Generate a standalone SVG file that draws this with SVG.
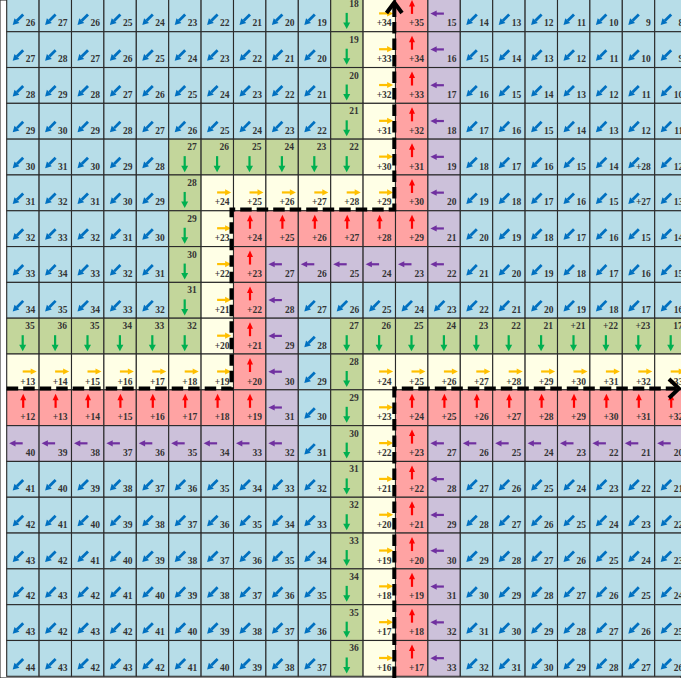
<svg xmlns="http://www.w3.org/2000/svg" xmlns:xlink="http://www.w3.org/1999/xlink" width="681" height="678" viewBox="0 0 681 678">
<style>
.b{fill:#b7dde8}.g{fill:#c3d69b}.y{fill:#ffffe6}.r{fill:#ffa3a3}.p{fill:#ccc1da}
rect{stroke:#2a2a2a;stroke-width:1.1}
text{font-family:"Liberation Serif","DejaVu Serif",serif;font-weight:bold;font-size:9.5px;fill:#333;text-anchor:end}
.dl{fill:none;stroke:#000;stroke-width:4;stroke-dasharray:11.5 5}
.ah{fill:none;stroke:#000;stroke-width:4;stroke-linecap:butt;stroke-linejoin:miter}
</style>
<defs>
<g id="B"><rect class="b" width="32.4" height="35.81"/><path d="M16.5 18.5L10.2 24.8" stroke="#0070c0" stroke-width="2.8"/><path d="M6 29L7.8 22.3L12.7 27.2Z" fill="#0070c0"/></g>
<g id="G"><rect class="g" width="32.4" height="35.81"/><path d="M16 17V27.5" stroke="#00b050" stroke-width="2.2"/><path d="M12.5 26.5H19.5L16 33Z" fill="#00b050"/></g>
<g id="Y"><rect class="y" width="32.4" height="35.81"/><path d="M16 17.5H25" stroke="#ffc000" stroke-width="2.2"/><path d="M24 14.4V20.6L30 17.5Z" fill="#ffc000"/></g>
<g id="R"><rect class="r" width="32.4" height="35.81"/><path d="M16.5 18V9.5" stroke="#ff0000" stroke-width="2.2"/><path d="M13.5 10.5H19.5L16.5 4Z" fill="#ff0000"/></g>
<g id="P"><rect class="p" width="32.4" height="35.81"/><path d="M16 17.7H8" stroke="#7030a0" stroke-width="2.2"/><path d="M8.8 14.6V20.8L2.5 17.7Z" fill="#7030a0"/></g>
</defs>
<rect width="681" height="678" fill="#fff"/>
<g id="cells">
<g id="n0_0" transform="translate(6.7,-4.1)"><use href="#B"/><text x="28.5" y="30.5">26</text></g>
<g id="n0_1" transform="translate(39.1,-4.1)"><use href="#B"/><text x="28.5" y="30.5">27</text></g>
<g id="n0_2" transform="translate(71.5,-4.1)"><use href="#B"/><text x="28.5" y="30.5">26</text></g>
<g id="n0_3" transform="translate(103.9,-4.1)"><use href="#B"/><text x="28.5" y="30.5">25</text></g>
<g id="n0_4" transform="translate(136.3,-4.1)"><use href="#B"/><text x="28.5" y="30.5">24</text></g>
<g id="n0_5" transform="translate(168.7,-4.1)"><use href="#B"/><text x="28.5" y="30.5">23</text></g>
<g id="n0_6" transform="translate(201.1,-4.1)"><use href="#B"/><text x="28.5" y="30.5">22</text></g>
<g id="n0_7" transform="translate(233.5,-4.1)"><use href="#B"/><text x="28.5" y="30.5">21</text></g>
<g id="n0_8" transform="translate(265.9,-4.1)"><use href="#B"/><text x="28.5" y="30.5">20</text></g>
<g id="n0_9" transform="translate(298.3,-4.1)"><use href="#B"/><text x="28.5" y="30.5">19</text></g>
<g id="n0_10" transform="translate(330.7,-4.1)"><use href="#G"/><text x="28" y="11">18</text></g>
<g id="n0_11" transform="translate(363.1,-4.1)"><use href="#Y"/><text x="28.5" y="30.5">+34</text></g>
<g id="n0_12" transform="translate(395.5,-4.1)"><use href="#R"/><text x="28.5" y="30.5">+35</text></g>
<g id="n0_13" transform="translate(427.9,-4.1)"><use href="#P"/><text x="28.5" y="30.5">15</text></g>
<g id="n0_14" transform="translate(460.3,-4.1)"><use href="#B"/><text x="28.5" y="30.5">14</text></g>
<g id="n0_15" transform="translate(492.7,-4.1)"><use href="#B"/><text x="28.5" y="30.5">13</text></g>
<g id="n0_16" transform="translate(525.1,-4.1)"><use href="#B"/><text x="28.5" y="30.5">12</text></g>
<g id="n0_17" transform="translate(557.5,-4.1)"><use href="#B"/><text x="28.5" y="30.5">11</text></g>
<g id="n0_18" transform="translate(589.9,-4.1)"><use href="#B"/><text x="28.5" y="30.5">10</text></g>
<g id="n0_19" transform="translate(622.3,-4.1)"><use href="#B"/><text x="28.5" y="30.5">9</text></g>
<g id="n0_20" transform="translate(654.7,-4.1)"><use href="#B"/><text x="28.5" y="30.5">8</text></g>

<g id="n1_0" transform="translate(6.7,31.71)"><use href="#B"/><text x="28.5" y="30.5">27</text></g>
<g id="n1_1" transform="translate(39.1,31.71)"><use href="#B"/><text x="28.5" y="30.5">28</text></g>
<g id="n1_2" transform="translate(71.5,31.71)"><use href="#B"/><text x="28.5" y="30.5">27</text></g>
<g id="n1_3" transform="translate(103.9,31.71)"><use href="#B"/><text x="28.5" y="30.5">26</text></g>
<g id="n1_4" transform="translate(136.3,31.71)"><use href="#B"/><text x="28.5" y="30.5">25</text></g>
<g id="n1_5" transform="translate(168.7,31.71)"><use href="#B"/><text x="28.5" y="30.5">24</text></g>
<g id="n1_6" transform="translate(201.1,31.71)"><use href="#B"/><text x="28.5" y="30.5">23</text></g>
<g id="n1_7" transform="translate(233.5,31.71)"><use href="#B"/><text x="28.5" y="30.5">22</text></g>
<g id="n1_8" transform="translate(265.9,31.71)"><use href="#B"/><text x="28.5" y="30.5">21</text></g>
<g id="n1_9" transform="translate(298.3,31.71)"><use href="#B"/><text x="28.5" y="30.5">20</text></g>
<g id="n1_10" transform="translate(330.7,31.71)"><use href="#G"/><text x="28" y="11">19</text></g>
<g id="n1_11" transform="translate(363.1,31.71)"><use href="#Y"/><text x="28.5" y="30.5">+33</text></g>
<g id="n1_12" transform="translate(395.5,31.71)"><use href="#R"/><text x="28.5" y="30.5">+34</text></g>
<g id="n1_13" transform="translate(427.9,31.71)"><use href="#P"/><text x="28.5" y="30.5">16</text></g>
<g id="n1_14" transform="translate(460.3,31.71)"><use href="#B"/><text x="28.5" y="30.5">15</text></g>
<g id="n1_15" transform="translate(492.7,31.71)"><use href="#B"/><text x="28.5" y="30.5">14</text></g>
<g id="n1_16" transform="translate(525.1,31.71)"><use href="#B"/><text x="28.5" y="30.5">13</text></g>
<g id="n1_17" transform="translate(557.5,31.71)"><use href="#B"/><text x="28.5" y="30.5">12</text></g>
<g id="n1_18" transform="translate(589.9,31.71)"><use href="#B"/><text x="28.5" y="30.5">11</text></g>
<g id="n1_19" transform="translate(622.3,31.71)"><use href="#B"/><text x="28.5" y="30.5">10</text></g>
<g id="n1_20" transform="translate(654.7,31.71)"><use href="#B"/><text x="28.5" y="30.5">9</text></g>

<g id="n2_0" transform="translate(6.7,67.52)"><use href="#B"/><text x="28.5" y="30.5">28</text></g>
<g id="n2_1" transform="translate(39.1,67.52)"><use href="#B"/><text x="28.5" y="30.5">29</text></g>
<g id="n2_2" transform="translate(71.5,67.52)"><use href="#B"/><text x="28.5" y="30.5">28</text></g>
<g id="n2_3" transform="translate(103.9,67.52)"><use href="#B"/><text x="28.5" y="30.5">27</text></g>
<g id="n2_4" transform="translate(136.3,67.52)"><use href="#B"/><text x="28.5" y="30.5">26</text></g>
<g id="n2_5" transform="translate(168.7,67.52)"><use href="#B"/><text x="28.5" y="30.5">25</text></g>
<g id="n2_6" transform="translate(201.1,67.52)"><use href="#B"/><text x="28.5" y="30.5">24</text></g>
<g id="n2_7" transform="translate(233.5,67.52)"><use href="#B"/><text x="28.5" y="30.5">23</text></g>
<g id="n2_8" transform="translate(265.9,67.52)"><use href="#B"/><text x="28.5" y="30.5">22</text></g>
<g id="n2_9" transform="translate(298.3,67.52)"><use href="#B"/><text x="28.5" y="30.5">21</text></g>
<g id="n2_10" transform="translate(330.7,67.52)"><use href="#G"/><text x="28" y="11">20</text></g>
<g id="n2_11" transform="translate(363.1,67.52)"><use href="#Y"/><text x="28.5" y="30.5">+32</text></g>
<g id="n2_12" transform="translate(395.5,67.52)"><use href="#R"/><text x="28.5" y="30.5">+33</text></g>
<g id="n2_13" transform="translate(427.9,67.52)"><use href="#P"/><text x="28.5" y="30.5">17</text></g>
<g id="n2_14" transform="translate(460.3,67.52)"><use href="#B"/><text x="28.5" y="30.5">16</text></g>
<g id="n2_15" transform="translate(492.7,67.52)"><use href="#B"/><text x="28.5" y="30.5">15</text></g>
<g id="n2_16" transform="translate(525.1,67.52)"><use href="#B"/><text x="28.5" y="30.5">14</text></g>
<g id="n2_17" transform="translate(557.5,67.52)"><use href="#B"/><text x="28.5" y="30.5">13</text></g>
<g id="n2_18" transform="translate(589.9,67.52)"><use href="#B"/><text x="28.5" y="30.5">12</text></g>
<g id="n2_19" transform="translate(622.3,67.52)"><use href="#B"/><text x="28.5" y="30.5">11</text></g>
<g id="n2_20" transform="translate(654.7,67.52)"><use href="#B"/><text x="28.5" y="30.5">10</text></g>

<g id="n3_0" transform="translate(6.7,103.33)"><use href="#B"/><text x="28.5" y="30.5">29</text></g>
<g id="n3_1" transform="translate(39.1,103.33)"><use href="#B"/><text x="28.5" y="30.5">30</text></g>
<g id="n3_2" transform="translate(71.5,103.33)"><use href="#B"/><text x="28.5" y="30.5">29</text></g>
<g id="n3_3" transform="translate(103.9,103.33)"><use href="#B"/><text x="28.5" y="30.5">28</text></g>
<g id="n3_4" transform="translate(136.3,103.33)"><use href="#B"/><text x="28.5" y="30.5">27</text></g>
<g id="n3_5" transform="translate(168.7,103.33)"><use href="#B"/><text x="28.5" y="30.5">26</text></g>
<g id="n3_6" transform="translate(201.1,103.33)"><use href="#B"/><text x="28.5" y="30.5">25</text></g>
<g id="n3_7" transform="translate(233.5,103.33)"><use href="#B"/><text x="28.5" y="30.5">24</text></g>
<g id="n3_8" transform="translate(265.9,103.33)"><use href="#B"/><text x="28.5" y="30.5">23</text></g>
<g id="n3_9" transform="translate(298.3,103.33)"><use href="#B"/><text x="28.5" y="30.5">22</text></g>
<g id="n3_10" transform="translate(330.7,103.33)"><use href="#G"/><text x="28" y="11">21</text></g>
<g id="n3_11" transform="translate(363.1,103.33)"><use href="#Y"/><text x="28.5" y="30.5">+31</text></g>
<g id="n3_12" transform="translate(395.5,103.33)"><use href="#R"/><text x="28.5" y="30.5">+32</text></g>
<g id="n3_13" transform="translate(427.9,103.33)"><use href="#P"/><text x="28.5" y="30.5">18</text></g>
<g id="n3_14" transform="translate(460.3,103.33)"><use href="#B"/><text x="28.5" y="30.5">17</text></g>
<g id="n3_15" transform="translate(492.7,103.33)"><use href="#B"/><text x="28.5" y="30.5">16</text></g>
<g id="n3_16" transform="translate(525.1,103.33)"><use href="#B"/><text x="28.5" y="30.5">15</text></g>
<g id="n3_17" transform="translate(557.5,103.33)"><use href="#B"/><text x="28.5" y="30.5">14</text></g>
<g id="n3_18" transform="translate(589.9,103.33)"><use href="#B"/><text x="28.5" y="30.5">13</text></g>
<g id="n3_19" transform="translate(622.3,103.33)"><use href="#B"/><text x="28.5" y="30.5">12</text></g>
<g id="n3_20" transform="translate(654.7,103.33)"><use href="#B"/><text x="28.5" y="30.5">11</text></g>

<g id="n4_0" transform="translate(6.7,139.14)"><use href="#B"/><text x="28.5" y="30.5">30</text></g>
<g id="n4_1" transform="translate(39.1,139.14)"><use href="#B"/><text x="28.5" y="30.5">31</text></g>
<g id="n4_2" transform="translate(71.5,139.14)"><use href="#B"/><text x="28.5" y="30.5">30</text></g>
<g id="n4_3" transform="translate(103.9,139.14)"><use href="#B"/><text x="28.5" y="30.5">29</text></g>
<g id="n4_4" transform="translate(136.3,139.14)"><use href="#B"/><text x="28.5" y="30.5">28</text></g>
<g id="n4_5" transform="translate(168.7,139.14)"><use href="#G"/><text x="28" y="11">27</text></g>
<g id="n4_6" transform="translate(201.1,139.14)"><use href="#G"/><text x="28" y="11">26</text></g>
<g id="n4_7" transform="translate(233.5,139.14)"><use href="#G"/><text x="28" y="11">25</text></g>
<g id="n4_8" transform="translate(265.9,139.14)"><use href="#G"/><text x="28" y="11">24</text></g>
<g id="n4_9" transform="translate(298.3,139.14)"><use href="#G"/><text x="28" y="11">23</text></g>
<g id="n4_10" transform="translate(330.7,139.14)"><use href="#G"/><text x="28" y="11">22</text></g>
<g id="n4_11" transform="translate(363.1,139.14)"><use href="#Y"/><text x="28.5" y="30.5">+30</text></g>
<g id="n4_12" transform="translate(395.5,139.14)"><use href="#R"/><text x="28.5" y="30.5">+31</text></g>
<g id="n4_13" transform="translate(427.9,139.14)"><use href="#P"/><text x="28.5" y="30.5">19</text></g>
<g id="n4_14" transform="translate(460.3,139.14)"><use href="#B"/><text x="28.5" y="30.5">18</text></g>
<g id="n4_15" transform="translate(492.7,139.14)"><use href="#B"/><text x="28.5" y="30.5">17</text></g>
<g id="n4_16" transform="translate(525.1,139.14)"><use href="#B"/><text x="28.5" y="30.5">16</text></g>
<g id="n4_17" transform="translate(557.5,139.14)"><use href="#B"/><text x="28.5" y="30.5">15</text></g>
<g id="n4_18" transform="translate(589.9,139.14)"><use href="#B"/><text x="28.5" y="30.5">14</text></g>
<g id="n4_19" transform="translate(622.3,139.14)"><use href="#B"/><text x="28.5" y="30.5">+28</text></g>
<g id="n4_20" transform="translate(654.7,139.14)"><use href="#B"/><text x="28.5" y="30.5">12</text></g>

<g id="n5_0" transform="translate(6.7,174.95)"><use href="#B"/><text x="28.5" y="30.5">31</text></g>
<g id="n5_1" transform="translate(39.1,174.95)"><use href="#B"/><text x="28.5" y="30.5">32</text></g>
<g id="n5_2" transform="translate(71.5,174.95)"><use href="#B"/><text x="28.5" y="30.5">31</text></g>
<g id="n5_3" transform="translate(103.9,174.95)"><use href="#B"/><text x="28.5" y="30.5">30</text></g>
<g id="n5_4" transform="translate(136.3,174.95)"><use href="#B"/><text x="28.5" y="30.5">29</text></g>
<g id="n5_5" transform="translate(168.7,174.95)"><use href="#G"/><text x="28" y="11">28</text></g>
<g id="n5_6" transform="translate(201.1,174.95)"><use href="#Y"/><text x="28.5" y="30.5">+24</text></g>
<g id="n5_7" transform="translate(233.5,174.95)"><use href="#Y"/><text x="28.5" y="30.5">+25</text></g>
<g id="n5_8" transform="translate(265.9,174.95)"><use href="#Y"/><text x="28.5" y="30.5">+26</text></g>
<g id="n5_9" transform="translate(298.3,174.95)"><use href="#Y"/><text x="28.5" y="30.5">+27</text></g>
<g id="n5_10" transform="translate(330.7,174.95)"><use href="#Y"/><text x="28.5" y="30.5">+28</text></g>
<g id="n5_11" transform="translate(363.1,174.95)"><use href="#Y"/><text x="28.5" y="30.5">+29</text></g>
<g id="n5_12" transform="translate(395.5,174.95)"><use href="#R"/><text x="28.5" y="30.5">+30</text></g>
<g id="n5_13" transform="translate(427.9,174.95)"><use href="#P"/><text x="28.5" y="30.5">20</text></g>
<g id="n5_14" transform="translate(460.3,174.95)"><use href="#B"/><text x="28.5" y="30.5">19</text></g>
<g id="n5_15" transform="translate(492.7,174.95)"><use href="#B"/><text x="28.5" y="30.5">18</text></g>
<g id="n5_16" transform="translate(525.1,174.95)"><use href="#B"/><text x="28.5" y="30.5">17</text></g>
<g id="n5_17" transform="translate(557.5,174.95)"><use href="#B"/><text x="28.5" y="30.5">16</text></g>
<g id="n5_18" transform="translate(589.9,174.95)"><use href="#B"/><text x="28.5" y="30.5">15</text></g>
<g id="n5_19" transform="translate(622.3,174.95)"><use href="#B"/><text x="28.5" y="30.5">+27</text></g>
<g id="n5_20" transform="translate(654.7,174.95)"><use href="#B"/><text x="28.5" y="30.5">13</text></g>

<g id="n6_0" transform="translate(6.7,210.76)"><use href="#B"/><text x="28.5" y="30.5">32</text></g>
<g id="n6_1" transform="translate(39.1,210.76)"><use href="#B"/><text x="28.5" y="30.5">33</text></g>
<g id="n6_2" transform="translate(71.5,210.76)"><use href="#B"/><text x="28.5" y="30.5">32</text></g>
<g id="n6_3" transform="translate(103.9,210.76)"><use href="#B"/><text x="28.5" y="30.5">31</text></g>
<g id="n6_4" transform="translate(136.3,210.76)"><use href="#B"/><text x="28.5" y="30.5">30</text></g>
<g id="n6_5" transform="translate(168.7,210.76)"><use href="#G"/><text x="28" y="11">29</text></g>
<g id="n6_6" transform="translate(201.1,210.76)"><use href="#Y"/><text x="28.5" y="30.5">+23</text></g>
<g id="n6_7" transform="translate(233.5,210.76)"><use href="#R"/><text x="28.5" y="30.5">+24</text></g>
<g id="n6_8" transform="translate(265.9,210.76)"><use href="#R"/><text x="28.5" y="30.5">+25</text></g>
<g id="n6_9" transform="translate(298.3,210.76)"><use href="#R"/><text x="28.5" y="30.5">+26</text></g>
<g id="n6_10" transform="translate(330.7,210.76)"><use href="#R"/><text x="28.5" y="30.5">+27</text></g>
<g id="n6_11" transform="translate(363.1,210.76)"><use href="#R"/><text x="28.5" y="30.5">+28</text></g>
<g id="n6_12" transform="translate(395.5,210.76)"><use href="#R"/><text x="28.5" y="30.5">+29</text></g>
<g id="n6_13" transform="translate(427.9,210.76)"><use href="#P"/><text x="28.5" y="30.5">21</text></g>
<g id="n6_14" transform="translate(460.3,210.76)"><use href="#B"/><text x="28.5" y="30.5">20</text></g>
<g id="n6_15" transform="translate(492.7,210.76)"><use href="#B"/><text x="28.5" y="30.5">19</text></g>
<g id="n6_16" transform="translate(525.1,210.76)"><use href="#B"/><text x="28.5" y="30.5">18</text></g>
<g id="n6_17" transform="translate(557.5,210.76)"><use href="#B"/><text x="28.5" y="30.5">17</text></g>
<g id="n6_18" transform="translate(589.9,210.76)"><use href="#B"/><text x="28.5" y="30.5">16</text></g>
<g id="n6_19" transform="translate(622.3,210.76)"><use href="#B"/><text x="28.5" y="30.5">15</text></g>
<g id="n6_20" transform="translate(654.7,210.76)"><use href="#B"/><text x="28.5" y="30.5">14</text></g>

<g id="n7_0" transform="translate(6.7,246.57)"><use href="#B"/><text x="28.5" y="30.5">33</text></g>
<g id="n7_1" transform="translate(39.1,246.57)"><use href="#B"/><text x="28.5" y="30.5">34</text></g>
<g id="n7_2" transform="translate(71.5,246.57)"><use href="#B"/><text x="28.5" y="30.5">33</text></g>
<g id="n7_3" transform="translate(103.9,246.57)"><use href="#B"/><text x="28.5" y="30.5">32</text></g>
<g id="n7_4" transform="translate(136.3,246.57)"><use href="#B"/><text x="28.5" y="30.5">31</text></g>
<g id="n7_5" transform="translate(168.7,246.57)"><use href="#G"/><text x="28" y="11">30</text></g>
<g id="n7_6" transform="translate(201.1,246.57)"><use href="#Y"/><text x="28.5" y="30.5">+22</text></g>
<g id="n7_7" transform="translate(233.5,246.57)"><use href="#R"/><text x="28.5" y="30.5">+23</text></g>
<g id="n7_8" transform="translate(265.9,246.57)"><use href="#P"/><text x="28.5" y="30.5">27</text></g>
<g id="n7_9" transform="translate(298.3,246.57)"><use href="#P"/><text x="28.5" y="30.5">26</text></g>
<g id="n7_10" transform="translate(330.7,246.57)"><use href="#P"/><text x="28.5" y="30.5">25</text></g>
<g id="n7_11" transform="translate(363.1,246.57)"><use href="#P"/><text x="28.5" y="30.5">24</text></g>
<g id="n7_12" transform="translate(395.5,246.57)"><use href="#P"/><text x="28.5" y="30.5">23</text></g>
<g id="n7_13" transform="translate(427.9,246.57)"><use href="#P"/><text x="28.5" y="30.5">22</text></g>
<g id="n7_14" transform="translate(460.3,246.57)"><use href="#B"/><text x="28.5" y="30.5">21</text></g>
<g id="n7_15" transform="translate(492.7,246.57)"><use href="#B"/><text x="28.5" y="30.5">20</text></g>
<g id="n7_16" transform="translate(525.1,246.57)"><use href="#B"/><text x="28.5" y="30.5">19</text></g>
<g id="n7_17" transform="translate(557.5,246.57)"><use href="#B"/><text x="28.5" y="30.5">18</text></g>
<g id="n7_18" transform="translate(589.9,246.57)"><use href="#B"/><text x="28.5" y="30.5">17</text></g>
<g id="n7_19" transform="translate(622.3,246.57)"><use href="#B"/><text x="28.5" y="30.5">16</text></g>
<g id="n7_20" transform="translate(654.7,246.57)"><use href="#B"/><text x="28.5" y="30.5">15</text></g>

<g id="n8_0" transform="translate(6.7,282.38)"><use href="#B"/><text x="28.5" y="30.5">34</text></g>
<g id="n8_1" transform="translate(39.1,282.38)"><use href="#B"/><text x="28.5" y="30.5">35</text></g>
<g id="n8_2" transform="translate(71.5,282.38)"><use href="#B"/><text x="28.5" y="30.5">34</text></g>
<g id="n8_3" transform="translate(103.9,282.38)"><use href="#B"/><text x="28.5" y="30.5">33</text></g>
<g id="n8_4" transform="translate(136.3,282.38)"><use href="#B"/><text x="28.5" y="30.5">32</text></g>
<g id="n8_5" transform="translate(168.7,282.38)"><use href="#G"/><text x="28" y="11">31</text></g>
<g id="n8_6" transform="translate(201.1,282.38)"><use href="#Y"/><text x="28.5" y="30.5">+21</text></g>
<g id="n8_7" transform="translate(233.5,282.38)"><use href="#R"/><text x="28.5" y="30.5">+22</text></g>
<g id="n8_8" transform="translate(265.9,282.38)"><use href="#P"/><text x="28.5" y="30.5">28</text></g>
<g id="n8_9" transform="translate(298.3,282.38)"><use href="#B"/><text x="28.5" y="30.5">27</text></g>
<g id="n8_10" transform="translate(330.7,282.38)"><use href="#B"/><text x="28.5" y="30.5">26</text></g>
<g id="n8_11" transform="translate(363.1,282.38)"><use href="#B"/><text x="28.5" y="30.5">25</text></g>
<g id="n8_12" transform="translate(395.5,282.38)"><use href="#B"/><text x="28.5" y="30.5">24</text></g>
<g id="n8_13" transform="translate(427.9,282.38)"><use href="#B"/><text x="28.5" y="30.5">23</text></g>
<g id="n8_14" transform="translate(460.3,282.38)"><use href="#B"/><text x="28.5" y="30.5">22</text></g>
<g id="n8_15" transform="translate(492.7,282.38)"><use href="#B"/><text x="28.5" y="30.5">21</text></g>
<g id="n8_16" transform="translate(525.1,282.38)"><use href="#B"/><text x="28.5" y="30.5">20</text></g>
<g id="n8_17" transform="translate(557.5,282.38)"><use href="#B"/><text x="28.5" y="30.5">19</text></g>
<g id="n8_18" transform="translate(589.9,282.38)"><use href="#B"/><text x="28.5" y="30.5">18</text></g>
<g id="n8_19" transform="translate(622.3,282.38)"><use href="#B"/><text x="28.5" y="30.5">17</text></g>
<g id="n8_20" transform="translate(654.7,282.38)"><use href="#B"/><text x="28.5" y="30.5">16</text></g>

<g id="n9_0" transform="translate(6.7,318.19)"><use href="#G"/><text x="28" y="11">35</text></g>
<g id="n9_1" transform="translate(39.1,318.19)"><use href="#G"/><text x="28" y="11">36</text></g>
<g id="n9_2" transform="translate(71.5,318.19)"><use href="#G"/><text x="28" y="11">35</text></g>
<g id="n9_3" transform="translate(103.9,318.19)"><use href="#G"/><text x="28" y="11">34</text></g>
<g id="n9_4" transform="translate(136.3,318.19)"><use href="#G"/><text x="28" y="11">33</text></g>
<g id="n9_5" transform="translate(168.7,318.19)"><use href="#G"/><text x="28" y="11">32</text></g>
<g id="n9_6" transform="translate(201.1,318.19)"><use href="#Y"/><text x="28.5" y="30.5">+20</text></g>
<g id="n9_7" transform="translate(233.5,318.19)"><use href="#R"/><text x="28.5" y="30.5">+21</text></g>
<g id="n9_8" transform="translate(265.9,318.19)"><use href="#P"/><text x="28.5" y="30.5">29</text></g>
<g id="n9_9" transform="translate(298.3,318.19)"><use href="#B"/><text x="28.5" y="30.5">28</text></g>
<g id="n9_10" transform="translate(330.7,318.19)"><use href="#G"/><text x="28" y="11">27</text></g>
<g id="n9_11" transform="translate(363.1,318.19)"><use href="#G"/><text x="28" y="11">26</text></g>
<g id="n9_12" transform="translate(395.5,318.19)"><use href="#G"/><text x="28" y="11">25</text></g>
<g id="n9_13" transform="translate(427.9,318.19)"><use href="#G"/><text x="28" y="11">24</text></g>
<g id="n9_14" transform="translate(460.3,318.19)"><use href="#G"/><text x="28" y="11">23</text></g>
<g id="n9_15" transform="translate(492.7,318.19)"><use href="#G"/><text x="28" y="11">22</text></g>
<g id="n9_16" transform="translate(525.1,318.19)"><use href="#G"/><text x="28" y="11">21</text></g>
<g id="n9_17" transform="translate(557.5,318.19)"><use href="#G"/><text x="28" y="11">+21</text></g>
<g id="n9_18" transform="translate(589.9,318.19)"><use href="#G"/><text x="28" y="11">+22</text></g>
<g id="n9_19" transform="translate(622.3,318.19)"><use href="#G"/><text x="28" y="11">+23</text></g>
<g id="n9_20" transform="translate(654.7,318.19)"><use href="#G"/><text x="28" y="11">17</text></g>

<g id="n10_0" transform="translate(6.7,354)"><use href="#Y"/><text x="28.5" y="30.5">+13</text></g>
<g id="n10_1" transform="translate(39.1,354)"><use href="#Y"/><text x="28.5" y="30.5">+14</text></g>
<g id="n10_2" transform="translate(71.5,354)"><use href="#Y"/><text x="28.5" y="30.5">+15</text></g>
<g id="n10_3" transform="translate(103.9,354)"><use href="#Y"/><text x="28.5" y="30.5">+16</text></g>
<g id="n10_4" transform="translate(136.3,354)"><use href="#Y"/><text x="28.5" y="30.5">+17</text></g>
<g id="n10_5" transform="translate(168.7,354)"><use href="#Y"/><text x="28.5" y="30.5">+18</text></g>
<g id="n10_6" transform="translate(201.1,354)"><use href="#Y"/><text x="28.5" y="30.5">+19</text></g>
<g id="n10_7" transform="translate(233.5,354)"><use href="#R"/><text x="28.5" y="30.5">+20</text></g>
<g id="n10_8" transform="translate(265.9,354)"><use href="#P"/><text x="28.5" y="30.5">30</text></g>
<g id="n10_9" transform="translate(298.3,354)"><use href="#B"/><text x="28.5" y="30.5">29</text></g>
<g id="n10_10" transform="translate(330.7,354)"><use href="#G"/><text x="28" y="11">28</text></g>
<g id="n10_11" transform="translate(363.1,354)"><use href="#Y"/><text x="28.5" y="30.5">+24</text></g>
<g id="n10_12" transform="translate(395.5,354)"><use href="#Y"/><text x="28.5" y="30.5">+25</text></g>
<g id="n10_13" transform="translate(427.9,354)"><use href="#Y"/><text x="28.5" y="30.5">+26</text></g>
<g id="n10_14" transform="translate(460.3,354)"><use href="#Y"/><text x="28.5" y="30.5">+27</text></g>
<g id="n10_15" transform="translate(492.7,354)"><use href="#Y"/><text x="28.5" y="30.5">+28</text></g>
<g id="n10_16" transform="translate(525.1,354)"><use href="#Y"/><text x="28.5" y="30.5">+29</text></g>
<g id="n10_17" transform="translate(557.5,354)"><use href="#Y"/><text x="28.5" y="30.5">+30</text></g>
<g id="n10_18" transform="translate(589.9,354)"><use href="#Y"/><text x="28.5" y="30.5">+31</text></g>
<g id="n10_19" transform="translate(622.3,354)"><use href="#Y"/><text x="28.5" y="30.5">+32</text></g>
<g id="n10_20" transform="translate(654.7,354)"><use href="#Y"/><text x="28.5" y="30.5">+33</text></g>

<g id="n11_0" transform="translate(6.7,389.81)"><use href="#R"/><text x="28.5" y="30.5">+12</text></g>
<g id="n11_1" transform="translate(39.1,389.81)"><use href="#R"/><text x="28.5" y="30.5">+13</text></g>
<g id="n11_2" transform="translate(71.5,389.81)"><use href="#R"/><text x="28.5" y="30.5">+14</text></g>
<g id="n11_3" transform="translate(103.9,389.81)"><use href="#R"/><text x="28.5" y="30.5">+15</text></g>
<g id="n11_4" transform="translate(136.3,389.81)"><use href="#R"/><text x="28.5" y="30.5">+16</text></g>
<g id="n11_5" transform="translate(168.7,389.81)"><use href="#R"/><text x="28.5" y="30.5">+17</text></g>
<g id="n11_6" transform="translate(201.1,389.81)"><use href="#R"/><text x="28.5" y="30.5">+18</text></g>
<g id="n11_7" transform="translate(233.5,389.81)"><use href="#R"/><text x="28.5" y="30.5">+19</text></g>
<g id="n11_8" transform="translate(265.9,389.81)"><use href="#P"/><text x="28.5" y="30.5">31</text></g>
<g id="n11_9" transform="translate(298.3,389.81)"><use href="#B"/><text x="28.5" y="30.5">30</text></g>
<g id="n11_10" transform="translate(330.7,389.81)"><use href="#G"/><text x="28" y="11">29</text></g>
<g id="n11_11" transform="translate(363.1,389.81)"><use href="#Y"/><text x="28.5" y="30.5">+23</text></g>
<g id="n11_12" transform="translate(395.5,389.81)"><use href="#R"/><text x="28.5" y="30.5">+24</text></g>
<g id="n11_13" transform="translate(427.9,389.81)"><use href="#R"/><text x="28.5" y="30.5">+25</text></g>
<g id="n11_14" transform="translate(460.3,389.81)"><use href="#R"/><text x="28.5" y="30.5">+26</text></g>
<g id="n11_15" transform="translate(492.7,389.81)"><use href="#R"/><text x="28.5" y="30.5">+27</text></g>
<g id="n11_16" transform="translate(525.1,389.81)"><use href="#R"/><text x="28.5" y="30.5">+28</text></g>
<g id="n11_17" transform="translate(557.5,389.81)"><use href="#R"/><text x="28.5" y="30.5">+29</text></g>
<g id="n11_18" transform="translate(589.9,389.81)"><use href="#R"/><text x="28.5" y="30.5">+30</text></g>
<g id="n11_19" transform="translate(622.3,389.81)"><use href="#R"/><text x="28.5" y="30.5">+31</text></g>
<g id="n11_20" transform="translate(654.7,389.81)"><use href="#R"/><text x="28.5" y="30.5">+32</text></g>

<g id="n12_0" transform="translate(6.7,425.62)"><use href="#P"/><text x="28.5" y="30.5">40</text></g>
<g id="n12_1" transform="translate(39.1,425.62)"><use href="#P"/><text x="28.5" y="30.5">39</text></g>
<g id="n12_2" transform="translate(71.5,425.62)"><use href="#P"/><text x="28.5" y="30.5">38</text></g>
<g id="n12_3" transform="translate(103.9,425.62)"><use href="#P"/><text x="28.5" y="30.5">37</text></g>
<g id="n12_4" transform="translate(136.3,425.62)"><use href="#P"/><text x="28.5" y="30.5">36</text></g>
<g id="n12_5" transform="translate(168.7,425.62)"><use href="#P"/><text x="28.5" y="30.5">35</text></g>
<g id="n12_6" transform="translate(201.1,425.62)"><use href="#P"/><text x="28.5" y="30.5">34</text></g>
<g id="n12_7" transform="translate(233.5,425.62)"><use href="#P"/><text x="28.5" y="30.5">33</text></g>
<g id="n12_8" transform="translate(265.9,425.62)"><use href="#P"/><text x="28.5" y="30.5">32</text></g>
<g id="n12_9" transform="translate(298.3,425.62)"><use href="#B"/><text x="28.5" y="30.5">31</text></g>
<g id="n12_10" transform="translate(330.7,425.62)"><use href="#G"/><text x="28" y="11">30</text></g>
<g id="n12_11" transform="translate(363.1,425.62)"><use href="#Y"/><text x="28.5" y="30.5">+22</text></g>
<g id="n12_12" transform="translate(395.5,425.62)"><use href="#R"/><text x="28.5" y="30.5">+23</text></g>
<g id="n12_13" transform="translate(427.9,425.62)"><use href="#P"/><text x="28.5" y="30.5">27</text></g>
<g id="n12_14" transform="translate(460.3,425.62)"><use href="#P"/><text x="28.5" y="30.5">26</text></g>
<g id="n12_15" transform="translate(492.7,425.62)"><use href="#P"/><text x="28.5" y="30.5">25</text></g>
<g id="n12_16" transform="translate(525.1,425.62)"><use href="#P"/><text x="28.5" y="30.5">24</text></g>
<g id="n12_17" transform="translate(557.5,425.62)"><use href="#P"/><text x="28.5" y="30.5">23</text></g>
<g id="n12_18" transform="translate(589.9,425.62)"><use href="#P"/><text x="28.5" y="30.5">22</text></g>
<g id="n12_19" transform="translate(622.3,425.62)"><use href="#P"/><text x="28.5" y="30.5">21</text></g>
<g id="n12_20" transform="translate(654.7,425.62)"><use href="#P"/><text x="28.5" y="30.5">20</text></g>

<g id="n13_0" transform="translate(6.7,461.43)"><use href="#B"/><text x="28.5" y="30.5">41</text></g>
<g id="n13_1" transform="translate(39.1,461.43)"><use href="#B"/><text x="28.5" y="30.5">40</text></g>
<g id="n13_2" transform="translate(71.5,461.43)"><use href="#B"/><text x="28.5" y="30.5">39</text></g>
<g id="n13_3" transform="translate(103.9,461.43)"><use href="#B"/><text x="28.5" y="30.5">38</text></g>
<g id="n13_4" transform="translate(136.3,461.43)"><use href="#B"/><text x="28.5" y="30.5">37</text></g>
<g id="n13_5" transform="translate(168.7,461.43)"><use href="#B"/><text x="28.5" y="30.5">36</text></g>
<g id="n13_6" transform="translate(201.1,461.43)"><use href="#B"/><text x="28.5" y="30.5">35</text></g>
<g id="n13_7" transform="translate(233.5,461.43)"><use href="#B"/><text x="28.5" y="30.5">34</text></g>
<g id="n13_8" transform="translate(265.9,461.43)"><use href="#B"/><text x="28.5" y="30.5">33</text></g>
<g id="n13_9" transform="translate(298.3,461.43)"><use href="#B"/><text x="28.5" y="30.5">32</text></g>
<g id="n13_10" transform="translate(330.7,461.43)"><use href="#G"/><text x="28" y="11">31</text></g>
<g id="n13_11" transform="translate(363.1,461.43)"><use href="#Y"/><text x="28.5" y="30.5">+21</text></g>
<g id="n13_12" transform="translate(395.5,461.43)"><use href="#R"/><text x="28.5" y="30.5">+22</text></g>
<g id="n13_13" transform="translate(427.9,461.43)"><use href="#P"/><text x="28.5" y="30.5">28</text></g>
<g id="n13_14" transform="translate(460.3,461.43)"><use href="#B"/><text x="28.5" y="30.5">27</text></g>
<g id="n13_15" transform="translate(492.7,461.43)"><use href="#B"/><text x="28.5" y="30.5">26</text></g>
<g id="n13_16" transform="translate(525.1,461.43)"><use href="#B"/><text x="28.5" y="30.5">25</text></g>
<g id="n13_17" transform="translate(557.5,461.43)"><use href="#B"/><text x="28.5" y="30.5">24</text></g>
<g id="n13_18" transform="translate(589.9,461.43)"><use href="#B"/><text x="28.5" y="30.5">23</text></g>
<g id="n13_19" transform="translate(622.3,461.43)"><use href="#B"/><text x="28.5" y="30.5">22</text></g>
<g id="n13_20" transform="translate(654.7,461.43)"><use href="#B"/><text x="28.5" y="30.5">21</text></g>

<g id="n14_0" transform="translate(6.7,497.24)"><use href="#B"/><text x="28.5" y="30.5">42</text></g>
<g id="n14_1" transform="translate(39.1,497.24)"><use href="#B"/><text x="28.5" y="30.5">41</text></g>
<g id="n14_2" transform="translate(71.5,497.24)"><use href="#B"/><text x="28.5" y="30.5">40</text></g>
<g id="n14_3" transform="translate(103.9,497.24)"><use href="#B"/><text x="28.5" y="30.5">39</text></g>
<g id="n14_4" transform="translate(136.3,497.24)"><use href="#B"/><text x="28.5" y="30.5">38</text></g>
<g id="n14_5" transform="translate(168.7,497.24)"><use href="#B"/><text x="28.5" y="30.5">37</text></g>
<g id="n14_6" transform="translate(201.1,497.24)"><use href="#B"/><text x="28.5" y="30.5">36</text></g>
<g id="n14_7" transform="translate(233.5,497.24)"><use href="#B"/><text x="28.5" y="30.5">35</text></g>
<g id="n14_8" transform="translate(265.9,497.24)"><use href="#B"/><text x="28.5" y="30.5">34</text></g>
<g id="n14_9" transform="translate(298.3,497.24)"><use href="#B"/><text x="28.5" y="30.5">33</text></g>
<g id="n14_10" transform="translate(330.7,497.24)"><use href="#G"/><text x="28" y="11">32</text></g>
<g id="n14_11" transform="translate(363.1,497.24)"><use href="#Y"/><text x="28.5" y="30.5">+20</text></g>
<g id="n14_12" transform="translate(395.5,497.24)"><use href="#R"/><text x="28.5" y="30.5">+21</text></g>
<g id="n14_13" transform="translate(427.9,497.24)"><use href="#P"/><text x="28.5" y="30.5">29</text></g>
<g id="n14_14" transform="translate(460.3,497.24)"><use href="#B"/><text x="28.5" y="30.5">28</text></g>
<g id="n14_15" transform="translate(492.7,497.24)"><use href="#B"/><text x="28.5" y="30.5">27</text></g>
<g id="n14_16" transform="translate(525.1,497.24)"><use href="#B"/><text x="28.5" y="30.5">26</text></g>
<g id="n14_17" transform="translate(557.5,497.24)"><use href="#B"/><text x="28.5" y="30.5">25</text></g>
<g id="n14_18" transform="translate(589.9,497.24)"><use href="#B"/><text x="28.5" y="30.5">24</text></g>
<g id="n14_19" transform="translate(622.3,497.24)"><use href="#B"/><text x="28.5" y="30.5">23</text></g>
<g id="n14_20" transform="translate(654.7,497.24)"><use href="#B"/><text x="28.5" y="30.5">22</text></g>

<g id="n15_0" transform="translate(6.7,533.05)"><use href="#B"/><text x="28.5" y="30.5">43</text></g>
<g id="n15_1" transform="translate(39.1,533.05)"><use href="#B"/><text x="28.5" y="30.5">42</text></g>
<g id="n15_2" transform="translate(71.5,533.05)"><use href="#B"/><text x="28.5" y="30.5">41</text></g>
<g id="n15_3" transform="translate(103.9,533.05)"><use href="#B"/><text x="28.5" y="30.5">40</text></g>
<g id="n15_4" transform="translate(136.3,533.05)"><use href="#B"/><text x="28.5" y="30.5">39</text></g>
<g id="n15_5" transform="translate(168.7,533.05)"><use href="#B"/><text x="28.5" y="30.5">38</text></g>
<g id="n15_6" transform="translate(201.1,533.05)"><use href="#B"/><text x="28.5" y="30.5">37</text></g>
<g id="n15_7" transform="translate(233.5,533.05)"><use href="#B"/><text x="28.5" y="30.5">36</text></g>
<g id="n15_8" transform="translate(265.9,533.05)"><use href="#B"/><text x="28.5" y="30.5">35</text></g>
<g id="n15_9" transform="translate(298.3,533.05)"><use href="#B"/><text x="28.5" y="30.5">34</text></g>
<g id="n15_10" transform="translate(330.7,533.05)"><use href="#G"/><text x="28" y="11">33</text></g>
<g id="n15_11" transform="translate(363.1,533.05)"><use href="#Y"/><text x="28.5" y="30.5">+19</text></g>
<g id="n15_12" transform="translate(395.5,533.05)"><use href="#R"/><text x="28.5" y="30.5">+20</text></g>
<g id="n15_13" transform="translate(427.9,533.05)"><use href="#P"/><text x="28.5" y="30.5">30</text></g>
<g id="n15_14" transform="translate(460.3,533.05)"><use href="#B"/><text x="28.5" y="30.5">29</text></g>
<g id="n15_15" transform="translate(492.7,533.05)"><use href="#B"/><text x="28.5" y="30.5">28</text></g>
<g id="n15_16" transform="translate(525.1,533.05)"><use href="#B"/><text x="28.5" y="30.5">27</text></g>
<g id="n15_17" transform="translate(557.5,533.05)"><use href="#B"/><text x="28.5" y="30.5">26</text></g>
<g id="n15_18" transform="translate(589.9,533.05)"><use href="#B"/><text x="28.5" y="30.5">25</text></g>
<g id="n15_19" transform="translate(622.3,533.05)"><use href="#B"/><text x="28.5" y="30.5">24</text></g>
<g id="n15_20" transform="translate(654.7,533.05)"><use href="#B"/><text x="28.5" y="30.5">23</text></g>

<g id="n16_0" transform="translate(6.7,568.86)"><use href="#B"/><text x="28.5" y="30.5">42</text></g>
<g id="n16_1" transform="translate(39.1,568.86)"><use href="#B"/><text x="28.5" y="30.5">43</text></g>
<g id="n16_2" transform="translate(71.5,568.86)"><use href="#B"/><text x="28.5" y="30.5">42</text></g>
<g id="n16_3" transform="translate(103.9,568.86)"><use href="#B"/><text x="28.5" y="30.5">41</text></g>
<g id="n16_4" transform="translate(136.3,568.86)"><use href="#B"/><text x="28.5" y="30.5">40</text></g>
<g id="n16_5" transform="translate(168.7,568.86)"><use href="#B"/><text x="28.5" y="30.5">39</text></g>
<g id="n16_6" transform="translate(201.1,568.86)"><use href="#B"/><text x="28.5" y="30.5">38</text></g>
<g id="n16_7" transform="translate(233.5,568.86)"><use href="#B"/><text x="28.5" y="30.5">37</text></g>
<g id="n16_8" transform="translate(265.9,568.86)"><use href="#B"/><text x="28.5" y="30.5">36</text></g>
<g id="n16_9" transform="translate(298.3,568.86)"><use href="#B"/><text x="28.5" y="30.5">35</text></g>
<g id="n16_10" transform="translate(330.7,568.86)"><use href="#G"/><text x="28" y="11">34</text></g>
<g id="n16_11" transform="translate(363.1,568.86)"><use href="#Y"/><text x="28.5" y="30.5">+18</text></g>
<g id="n16_12" transform="translate(395.5,568.86)"><use href="#R"/><text x="28.5" y="30.5">+19</text></g>
<g id="n16_13" transform="translate(427.9,568.86)"><use href="#P"/><text x="28.5" y="30.5">31</text></g>
<g id="n16_14" transform="translate(460.3,568.86)"><use href="#B"/><text x="28.5" y="30.5">30</text></g>
<g id="n16_15" transform="translate(492.7,568.86)"><use href="#B"/><text x="28.5" y="30.5">29</text></g>
<g id="n16_16" transform="translate(525.1,568.86)"><use href="#B"/><text x="28.5" y="30.5">28</text></g>
<g id="n16_17" transform="translate(557.5,568.86)"><use href="#B"/><text x="28.5" y="30.5">27</text></g>
<g id="n16_18" transform="translate(589.9,568.86)"><use href="#B"/><text x="28.5" y="30.5">26</text></g>
<g id="n16_19" transform="translate(622.3,568.86)"><use href="#B"/><text x="28.5" y="30.5">25</text></g>
<g id="n16_20" transform="translate(654.7,568.86)"><use href="#B"/><text x="28.5" y="30.5">24</text></g>

<g id="n17_0" transform="translate(6.7,604.67)"><use href="#B"/><text x="28.5" y="30.5">43</text></g>
<g id="n17_1" transform="translate(39.1,604.67)"><use href="#B"/><text x="28.5" y="30.5">42</text></g>
<g id="n17_2" transform="translate(71.5,604.67)"><use href="#B"/><text x="28.5" y="30.5">43</text></g>
<g id="n17_3" transform="translate(103.9,604.67)"><use href="#B"/><text x="28.5" y="30.5">42</text></g>
<g id="n17_4" transform="translate(136.3,604.67)"><use href="#B"/><text x="28.5" y="30.5">41</text></g>
<g id="n17_5" transform="translate(168.7,604.67)"><use href="#B"/><text x="28.5" y="30.5">40</text></g>
<g id="n17_6" transform="translate(201.1,604.67)"><use href="#B"/><text x="28.5" y="30.5">39</text></g>
<g id="n17_7" transform="translate(233.5,604.67)"><use href="#B"/><text x="28.5" y="30.5">38</text></g>
<g id="n17_8" transform="translate(265.9,604.67)"><use href="#B"/><text x="28.5" y="30.5">37</text></g>
<g id="n17_9" transform="translate(298.3,604.67)"><use href="#B"/><text x="28.5" y="30.5">36</text></g>
<g id="n17_10" transform="translate(330.7,604.67)"><use href="#G"/><text x="28" y="11">35</text></g>
<g id="n17_11" transform="translate(363.1,604.67)"><use href="#Y"/><text x="28.5" y="30.5">+17</text></g>
<g id="n17_12" transform="translate(395.5,604.67)"><use href="#R"/><text x="28.5" y="30.5">+18</text></g>
<g id="n17_13" transform="translate(427.9,604.67)"><use href="#P"/><text x="28.5" y="30.5">32</text></g>
<g id="n17_14" transform="translate(460.3,604.67)"><use href="#B"/><text x="28.5" y="30.5">31</text></g>
<g id="n17_15" transform="translate(492.7,604.67)"><use href="#B"/><text x="28.5" y="30.5">30</text></g>
<g id="n17_16" transform="translate(525.1,604.67)"><use href="#B"/><text x="28.5" y="30.5">29</text></g>
<g id="n17_17" transform="translate(557.5,604.67)"><use href="#B"/><text x="28.5" y="30.5">28</text></g>
<g id="n17_18" transform="translate(589.9,604.67)"><use href="#B"/><text x="28.5" y="30.5">27</text></g>
<g id="n17_19" transform="translate(622.3,604.67)"><use href="#B"/><text x="28.5" y="30.5">26</text></g>
<g id="n17_20" transform="translate(654.7,604.67)"><use href="#B"/><text x="28.5" y="30.5">25</text></g>

<g id="n18_0" transform="translate(6.7,640.48)"><use href="#B"/><text x="28.5" y="30.5">44</text></g>
<g id="n18_1" transform="translate(39.1,640.48)"><use href="#B"/><text x="28.5" y="30.5">43</text></g>
<g id="n18_2" transform="translate(71.5,640.48)"><use href="#B"/><text x="28.5" y="30.5">42</text></g>
<g id="n18_3" transform="translate(103.9,640.48)"><use href="#B"/><text x="28.5" y="30.5">43</text></g>
<g id="n18_4" transform="translate(136.3,640.48)"><use href="#B"/><text x="28.5" y="30.5">42</text></g>
<g id="n18_5" transform="translate(168.7,640.48)"><use href="#B"/><text x="28.5" y="30.5">41</text></g>
<g id="n18_6" transform="translate(201.1,640.48)"><use href="#B"/><text x="28.5" y="30.5">40</text></g>
<g id="n18_7" transform="translate(233.5,640.48)"><use href="#B"/><text x="28.5" y="30.5">39</text></g>
<g id="n18_8" transform="translate(265.9,640.48)"><use href="#B"/><text x="28.5" y="30.5">38</text></g>
<g id="n18_9" transform="translate(298.3,640.48)"><use href="#B"/><text x="28.5" y="30.5">37</text></g>
<g id="n18_10" transform="translate(330.7,640.48)"><use href="#G"/><text x="28" y="11">36</text></g>
<g id="n18_11" transform="translate(363.1,640.48)"><use href="#Y"/><text x="28.5" y="30.5">+16</text></g>
<g id="n18_12" transform="translate(395.5,640.48)"><use href="#R"/><text x="28.5" y="30.5">+17</text></g>
<g id="n18_13" transform="translate(427.9,640.48)"><use href="#P"/><text x="28.5" y="30.5">33</text></g>
<g id="n18_14" transform="translate(460.3,640.48)"><use href="#B"/><text x="28.5" y="30.5">32</text></g>
<g id="n18_15" transform="translate(492.7,640.48)"><use href="#B"/><text x="28.5" y="30.5">31</text></g>
<g id="n18_16" transform="translate(525.1,640.48)"><use href="#B"/><text x="28.5" y="30.5">30</text></g>
<g id="n18_17" transform="translate(557.5,640.48)"><use href="#B"/><text x="28.5" y="30.5">29</text></g>
<g id="n18_18" transform="translate(589.9,640.48)"><use href="#B"/><text x="28.5" y="30.5">28</text></g>
<g id="n18_19" transform="translate(622.3,640.48)"><use href="#B"/><text x="28.5" y="30.5">27</text></g>
<g id="n18_20" transform="translate(654.7,640.48)"><use href="#B"/><text x="28.5" y="30.5">26</text></g>
</g>
<g id="connectors">
<path class="dl" d="M394.3 678V388.5H676"/>
<path class="ah" d="M669 379L679 388.5L669 398"/>
<path class="dl" d="M6.7 388.5H231.5V209.5H394.3V5"/>
<path class="ah" d="M386.5 13L394.3 2.5L402 13"/>
</g>
</svg>
